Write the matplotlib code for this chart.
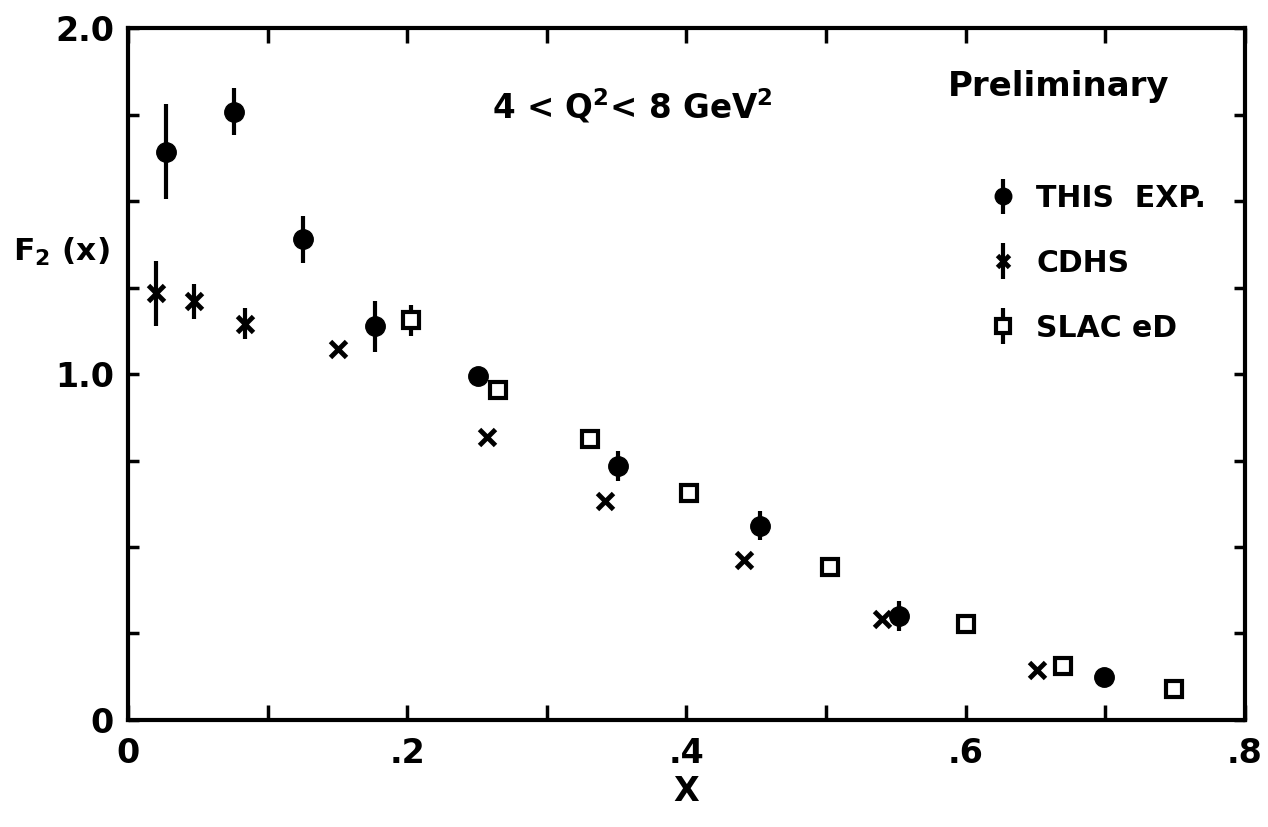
import matplotlib
matplotlib.use("Agg")
import matplotlib.pyplot as plt
from matplotlib.ticker import FixedLocator, MultipleLocator
from matplotlib.container import ErrorbarContainer
from matplotlib.legend_handler import HandlerErrorbar

# --- data ---------------------------------------------------------------
this_x = [0.027, 0.076, 0.1255, 0.177, 0.251, 0.351, 0.453, 0.552, 0.699]
this_y = [1.643, 1.758, 1.390, 1.138, 0.994, 0.734, 0.561, 0.301, 0.123]
this_err = [0.137, 0.068, 0.068, 0.074, 0.0, 0.043, 0.042, 0.043, 0.0]

cdhs_x = [0.0198, 0.0476, 0.084, 0.1507, 0.2569, 0.3414, 0.4414, 0.540, 0.651]
cdhs_y = [1.234, 1.210, 1.145, 1.073, 0.819, 0.633, 0.463, 0.291, 0.145]
cdhs_err = [0.094, 0.050, 0.045, 0.0, 0.0, 0.0, 0.0, 0.0, 0.0]

slac_x = [0.2024, 0.2652, 0.331, 0.402, 0.5026, 0.6002, 0.6695, 0.749]
slac_y = [1.155, 0.955, 0.811, 0.655, 0.441, 0.277, 0.155, 0.089]
slac_err = [0.045, 0.0, 0.0, 0.0, 0.0, 0.0, 0.0, 0.0]

series_labels = ["THIS  EXP.", "CDHS", "SLAC eD"]

x_ticks = [0.0, 0.2, 0.4, 0.6, 0.8]
x_tick_labels = ["0", ".2", ".4", ".6", ".8"]
y_ticks = [0.0, 1.0, 2.0]
y_tick_labels = ["0", "1.0", "2.0"]

# --- style --------------------------------------------------------------
plt.rcParams["font.family"] = ["DejaVu Sans"]
plt.rcParams["font.weight"] = "bold"
plt.rcParams["mathtext.fontset"] = "custom"
plt.rcParams["mathtext.rm"] = "DejaVu Sans:bold"
plt.rcParams["mathtext.default"] = "rm"

fig = plt.figure(figsize=(12.68, 8.27), dpi=100)
ax = fig.add_axes([0.1009, 0.1294, 0.8809, 0.8367])

ink = "black"
common = dict(linestyle="none", ecolor=ink, elinewidth=3.0, capsize=0)

h_this = ax.errorbar(this_x, this_y, yerr=this_err, fmt="o", ms=14,
                     mfc=ink, mec=ink, label=series_labels[0], **common)
h_cdhs = ax.errorbar(cdhs_x, cdhs_y, yerr=cdhs_err, fmt="x", ms=11, mew=3.5,
                     mec=ink, label=series_labels[1], **common)
h_slac = ax.errorbar(slac_x, slac_y, yerr=slac_err, fmt="s", ms=12, mew=3.0,
                     mfc="white", mec=ink, label=series_labels[2], **common)

ax.set_xlim(0, 0.8)
ax.set_ylim(0, 2.0)

ax.xaxis.set_major_locator(FixedLocator(x_ticks))
ax.set_xticklabels(x_tick_labels)
ax.xaxis.set_minor_locator(MultipleLocator(0.1))
ax.yaxis.set_major_locator(FixedLocator(y_ticks))
ax.set_yticklabels(y_tick_labels)
ax.yaxis.set_minor_locator(MultipleLocator(0.25))

for s in ax.spines.values():
    s.set_linewidth(3.0)

ax.tick_params(axis="x", which="both", direction="in", length=11, width=2.5,
               top=True, labelsize=24, pad=12)
ax.tick_params(axis="y", which="both", direction="in", length=8, width=2.5,
               right=True, labelsize=24, pad=10)

ax.set_xlabel("X", fontsize=24, fontweight="bold", labelpad=4)
fig.text(0.010, 0.695, "F$_2$ (x)", fontsize=22.5, fontweight="bold",
         ha="left", va="center")

ax.text(0.326, 0.887, "4 < Q$^2$< 8 GeV$^2$", transform=ax.transAxes,
        fontsize=23.5, fontweight="bold", ha="left", va="center")
ax.text(0.734, 0.915, "Preliminary", transform=ax.transAxes,
        fontsize=24.5, fontweight="bold", ha="left", va="center")

leg = ax.legend(handles=[h_this, h_cdhs, h_slac], loc="upper left",
                bbox_to_anchor=(0.757, 0.805), frameon=False,
                fontsize=21.5, handlelength=0.6, handletextpad=0.8,
                labelspacing=1.2, markerscale=0.85, borderpad=0.2,
                handler_map={ErrorbarContainer:
                             HandlerErrorbar(xerr_size=0.5, yerr_size=0.6)})
for t in leg.get_texts():
    t.set_fontweight("bold")

fig.savefig("out.png", dpi=100, facecolor="white")
